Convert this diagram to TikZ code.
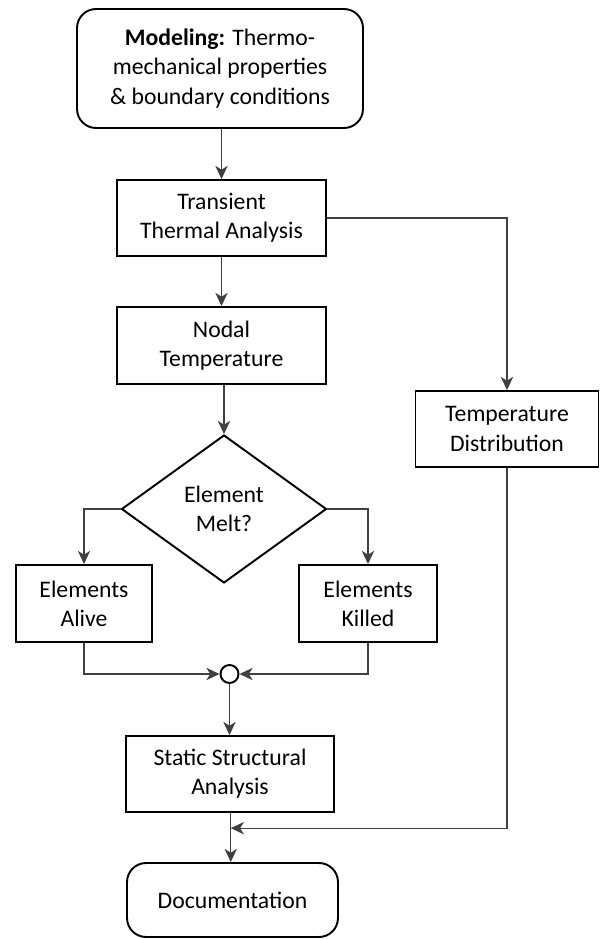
\documentclass[tikz,border=0pt]{standalone}
\usepackage{fontspec}
\setmainfont{Carlito}
\usetikzlibrary{arrows.meta,shapes.geometric,calc}
\begin{document}
\begin{tikzpicture}[x=0.02cm, y=-0.02cm,
        font=\fontsize{13.5}{16.6}\selectfont,
        box/.style={draw, line width=1.1pt, align=center, inner sep=0pt, minimum height=1.52cm},
        endbox/.style={box, rounded corners=0.38cm},
        ask/.style={draw, diamond, line width=1.1pt, align=center, inner sep=0pt, minimum width=4.1cm, minimum height=2.96cm},
        link/.style={draw=black!75, line width=0.65pt, -{Stealth[length=7.5pt, width=7pt, inset=2.2pt]}}]
        \useasboundingbox (0, 0) rectangle (600, 939);
        \node[endbox, minimum width=5.72cm, minimum height=2.38cm] (model) at (220, 68.5) {\textbf{Modeling:} Thermo-\\mechanical properties\\\& boundary conditions};
        \node[box, minimum width=4.18cm] (trans) at (221.5, 218) {Transient\\Thermal Analysis};
        \node[box, minimum width=4.18cm, minimum height=1.54cm] (nodal) at (221.5, 345.5) {Nodal\\Temperature};
        \node[ask] (melt) at (224, 509) {Element\\Melt?};
        \node[box, minimum width=2.72cm, minimum height=1.54cm] (alive) at (84, 603.5) {Elements\\Alive};
        \node[box, minimum width=2.76cm, minimum height=1.54cm] (killed) at (368, 603.5) {Elements\\Killed};
        \node[draw, circle, line width=1.1pt, minimum size=0.36cm, inner sep=0pt] (junc) at (229.5, 674) {};
        \node[box, minimum width=4.16cm] (static) at (230, 774) {Static Structural\\Analysis};
        \node[box, minimum width=3.66cm] (tdist) at (507, 429) {Temperature\\Distribution};
        \node[endbox, minimum width=4.22cm, minimum height=1.48cm] (doc) at (232.5, 900) {Documentation};
        \coordinate (merge) at ($(static.south)!0.31!(doc.north)$);
        \draw[link] (trans.north |- model.south) -- (trans.north);
        \draw[link] (trans) -- (nodal);
        \draw[link] (melt.north |- nodal.south) -- (melt.north);
        \draw[link] (trans.east) -| (tdist.north);
        \draw[link] (melt.west) -| (alive.north);
        \draw[link] (melt.east) -| (killed.north);
        \draw[link] (alive.south) |- (junc.west);
        \draw[link] (killed.south) |- (junc.east);
        \draw[link] (junc.south) -- (junc.south |- static.north);
        \draw[link] (tdist.south) |- (merge);
        \draw[link] (static.south -| merge) -- (doc.north -| merge);
\end{tikzpicture}
\end{document}
